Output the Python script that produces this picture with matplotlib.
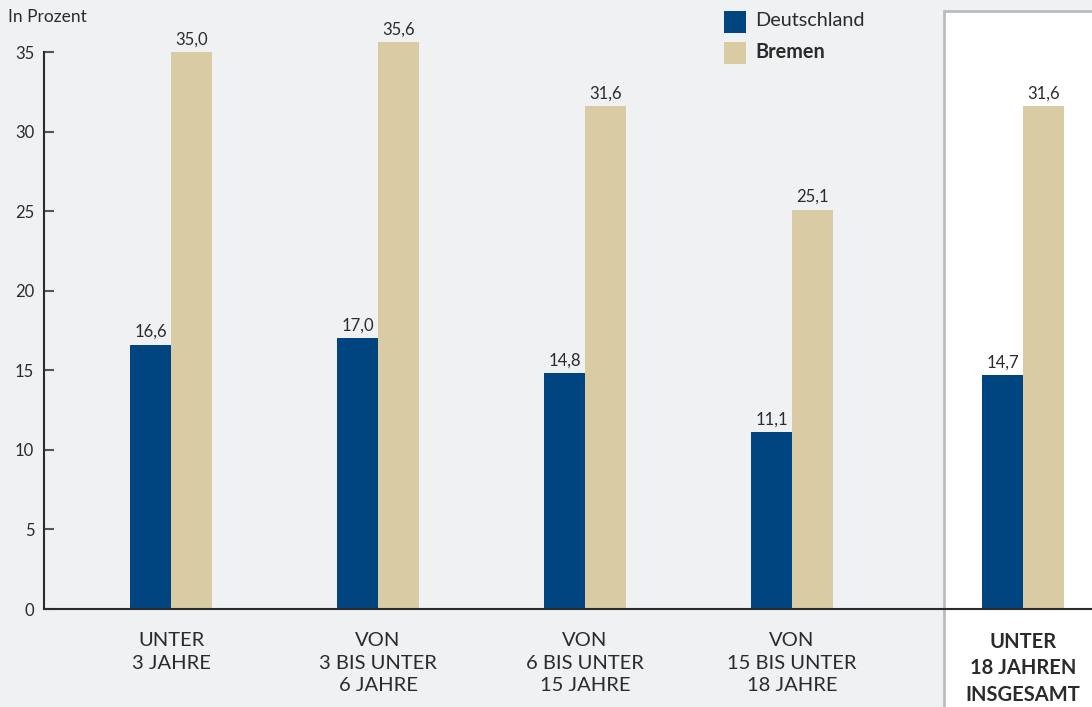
import numpy as np
import matplotlib.pyplot as plt
from matplotlib.patches import Rectangle

plt.rcParams['font.family'] = ['Lato', 'DejaVu Sans']

# data
categories = ['UNTER\n3 JAHRE', 'VON\n3 BIS UNTER\n6 JAHRE', 'VON\n6 BIS UNTER\n15 JAHRE',
              'VON\n15 BIS UNTER\n18 JAHRE', 'UNTER\n18 JAHREN\nINSGESAMT']
deutschland = [16.6, 17.0, 14.8, 11.1, 14.7]
bremen = [35.0, 35.6, 31.6, 25.1, 31.6]
yticks = [0, 5, 10, 15, 20, 25, 30, 35]

blue = '#00457f'
beige = '#d9cca4'
bg = '#f0f1f3'
txt = '#2b2b2b'

fig = plt.figure(figsize=(10.92, 7.07), dpi=100, facecolor=bg)
ax = fig.add_axes([44 / 1092, 98 / 707, 1048 / 1092, 598 / 707])
ax.set_facecolor('none')

x = np.arange(len(categories), dtype=float)
x[-1] = 4.115
w = 0.198
ytop = 598 / 15.914
ax.set_xlim(-0.614, -0.614 + 1048 / 207)
ax.set_ylim(0, ytop)

# highlight box for total
box = Rectangle((3.734, -10), 10, ytop + 10, facecolor='white', edgecolor='#bcbcbe',
                linewidth=2, zorder=0, clip_on=False)
ax.add_patch(box)

b1 = ax.bar(x - w / 2, deutschland, w, color=blue, zorder=2)
b2 = ax.bar(x + w / 2, bremen, w, color=beige, zorder=2)

for bars in (b1, b2):
    for r in bars:
        v = r.get_height()
        ax.annotate(f'{v:.1f}'.replace('.', ','), (r.get_x() + r.get_width() / 2, v),
                    xytext=(0, 3.5), textcoords='offset points', ha='center', va='bottom',
                    fontsize=12, color=txt)

ax.set_xticks(x)
ax.set_xticklabels([])
for i, lab in enumerate(categories):
    bold = i == len(categories) - 1
    ax.annotate(lab, (x[i], 0), xytext=(0, -16.5), textcoords='offset points',
                ha='center', va='top', fontsize=14.5, color=txt, linespacing=1.4,
                fontweight='bold' if bold else 'normal', annotation_clip=False)
ax.tick_params(axis='x', length=0)

ax.set_yticks(yticks)
ax.set_yticklabels([str(t) for t in yticks], fontsize=12, color=txt)
ax.tick_params(axis='y', direction='in', length=7, width=1.5, color='#555555', pad=7)

for s in ['top', 'right']:
    ax.spines[s].set_visible(False)
ax.spines['left'].set_bounds(0, 35)
ax.spines['left'].set_linewidth(1.5)
ax.spines['left'].set_color('#2b2b2b')
ax.spines['bottom'].set_linewidth(1.5)
ax.spines['bottom'].set_color('#2b2b2b')
ax.spines['left'].set_zorder(3)
ax.spines['bottom'].set_zorder(3)

fig.text(8 / 1092, 1 - 17 / 707, 'In Prozent', fontsize=12.5, color=txt, va='center', ha='left')

# legend
fig.patches.append(Rectangle((724 / 1092, 1 - 33 / 707), 22 / 1092, 22 / 707,
                             transform=fig.transFigure, facecolor=blue, edgecolor='none'))
fig.patches.append(Rectangle((724 / 1092, 1 - 64 / 707), 22 / 1092, 22 / 707,
                             transform=fig.transFigure, facecolor=beige, edgecolor='none'))
fig.text(755 / 1092, 1 - 21 / 707, 'Deutschland', fontsize=14.3, color=txt, va='center')
fig.text(755 / 1092, 1 - 52 / 707, 'Bremen', fontsize=14.3, color=txt, va='center',
         fontweight='bold')

fig.savefig('out.png', dpi=100, facecolor=bg)
